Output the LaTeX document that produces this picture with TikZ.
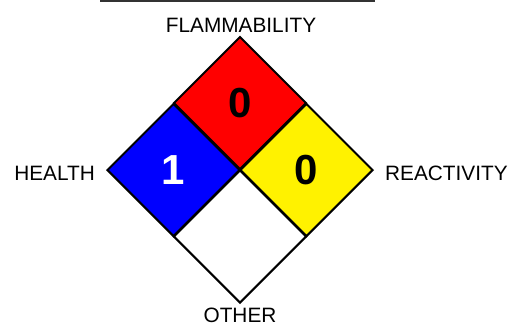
\documentclass[tikz,border=0pt]{standalone}
\usepackage{fontspec}
\setmainfont{Liberation Sans}
\usetikzlibrary{shapes.geometric,positioning}
\tikzset{
  hazbox/.style={
    draw,
    diamond,
    line width=2pt,
    line join=miter,
    inner sep=0pt,
    minimum width=133pt,
    minimum height=133pt,
    font=\fontsize{42}{48}\selectfont\bfseries
  },
  hazlabel/.style={
    inner sep=0pt,
    font=\fontsize{20.8}{24}\selectfont
  }
}

\begin{document}
\begin{tikzpicture}[x=1pt,y=-1pt]
    \useasboundingbox (0,0) rectangle (508,325);
    \draw[line width=1.5pt, black!80] (100,1) -- (375,1);

    \node[hazbox, fill=red] (flam) at (240,103) {0};
    \node[hazbox, fill=blue, text=white] (health) at (173.5,170) {1};
    \node[hazbox, fill=yellow] (react) at (306.5,170) {0};
    \node[hazbox, fill=white] (other) at (240,236.5) {};

    \node[hazlabel, anchor=base] (flamtext) at (241,32) {FLAMMABILITY};
    \node[hazlabel, anchor=base east] (healthtext) at (95,180) {HEALTH};
    \node[hazlabel, anchor=base west] (reacttext) at (385,180) {REACTIVITY};
    \node[hazlabel, anchor=base] (othertext) at (240,322) {OTHER};
  \end{tikzpicture}
\end{document}
